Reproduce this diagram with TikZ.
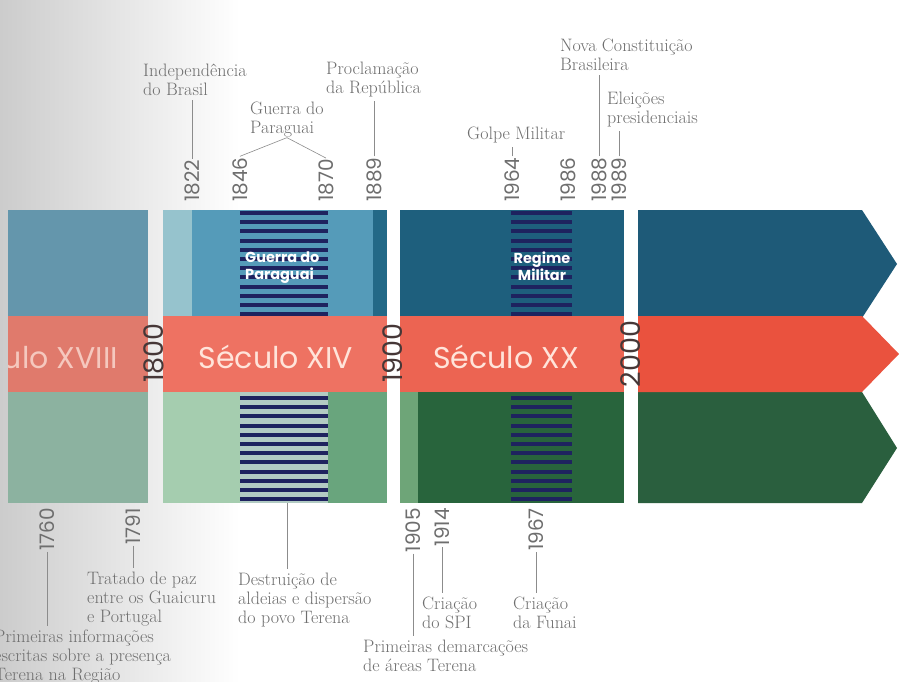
\documentclass[tikz,border=0pt]{standalone}
\usepackage{fontspec}
\newfontfamily\geofont{Poppins}
\definecolor{s1top}{RGB}{100,150,172}
\definecolor{s1bot}{RGB}{140,178,160}
\definecolor{s2topL}{RGB}{150,195,205}
\definecolor{s2top}{RGB}{85,155,185}
\definecolor{s2topR}{RGB}{35,105,135}
\definecolor{s2botL}{RGB}{165,205,175}
\definecolor{s2botS}{RGB}{178,203,195}
\definecolor{s2botR}{RGB}{105,165,125}
\definecolor{s3top}{RGB}{30,95,125}
\definecolor{s3botL}{RGB}{110,165,120}
\definecolor{s3bot}{RGB}{40,100,60}
\definecolor{s4top}{RGB}{30,90,120}
\definecolor{s4bot}{RGB}{42,95,62}
\definecolor{red1}{RGB}{224,122,108}
\definecolor{red2}{RGB}{238,114,98}
\definecolor{red3}{RGB}{236,100,82}
\definecolor{red4}{RGB}{234,82,62}
\definecolor{navy}{RGB}{30,35,95}
\definecolor{txtgray}{RGB}{110,110,110}
\definecolor{cent}{RGB}{255,228,218}
\definecolor{centA}{RGB}{245,200,190}
\definecolor{yeardark}{RGB}{70,55,55}
\tikzset{
  lbl/.style={font=\fontsize{18}{19}\selectfont, text=txtgray, align=left, inner sep=0pt, anchor=north west},
  yr/.style={font=\geofont\fontsize{20}{20}\selectfont, text=txtgray, rotate=90, inner sep=1pt},
  cyr/.style={font=\geofont\fontsize{27}{27}\selectfont, text=yeardark, rotate=90, inner sep=0pt},
  century/.style={font=\geofont\fontsize{30}{30}\selectfont, text=cent, inner sep=0pt},
  boldlbl/.style={font=\geofont\bfseries\fontsize{14.5}{16.5}\selectfont, text=white, align=center, inner sep=0pt},
  conn/.style={draw=black!45, line width=0.6pt},
  connb/.style={conn, shorten >=4pt}
}
\begin{document}
\begin{tikzpicture}[x=1pt,y=-1pt]
\clip (0,0) rectangle (899,682);
\fill[white] (0,0) rectangle (899,682);
\shade[left color=black!20, right color=white] (0,0) rectangle (240,682);
% section 1
\fill[s1top] (8,210) rectangle (148,316);
\fill[red1] (8,316) rectangle (148,392);
\fill[s1bot] (8,392) rectangle (148,503);
% section 2
\fill[s2topL] (163,210) rectangle (192,316);
\fill[s2top] (192,210) rectangle (373,316);
\fill[s2topR] (373,210) rectangle (387,316);
\fill[red2] (163,316) rectangle (387,392);
\fill[s2botL] (163,392) rectangle (240,503);
\fill[s2botS] (240,392) rectangle (328,503);
\fill[s2botR] (328,392) rectangle (387,503);
% section 3
\fill[s3top] (400,210) rectangle (624,316);
\fill[red3] (400,316) rectangle (624,392);
\fill[s3botL] (400,392) rectangle (418,503);
\fill[s3bot] (418,392) rectangle (624,503);
% section 4
\fill[s4top] (638,210) -- (862,210) -- (897,264) -- (862,318) -- (638,318) -- cycle;
\fill[s4bot] (638,392) -- (862,392) -- (897,448) -- (862,503) -- (638,503) -- cycle;
\fill[red4] (638,316) -- (862,316) -- (899,354) -- (862,392) -- (638,392) -- cycle;
% stripes
\foreach \k in {0,...,11} {
  \fill[navy] (240,{211+9.2*\k}) rectangle (328,{215+9.2*\k});
  \fill[navy] (240,{396+9.2*\k}) rectangle (328,{400+9.2*\k});
  \fill[navy] (511,{211+9.2*\k}) rectangle (572,{215+9.2*\k});
  \fill[navy] (511,{396+9.2*\k}) rectangle (572,{400+9.2*\k});
}
\node[boldlbl, align=left, anchor=north west] (gpar) at (245,252) {Guerra do\\Paraguai};
\node[boldlbl, anchor=north] (rmil) at (542,252) {Regime\\Militar};
% century texts
\begin{scope}
\clip (8,316) rectangle (148,392);
\node[century, text=centA, anchor=base east] (s18) at (118,368) {Século XVIII};
\end{scope}
\node[century, anchor=base] (s14) at (276,368) {Século XIV};
\node[century, anchor=base] (s20) at (506,368) {Século XX};
\node[cyr] (c1800) at (154,353) {1800};
\node[cyr] (c1900) at (393,353) {1900};
\node[cyr] (c2000) at (631,354) {2000};
% top years
\node[yr, anchor=west] (y1822) at (192,203) {1822};
\node[yr, anchor=west] (y1846) at (240,203) {1846};
\node[yr, anchor=west] (y1870) at (326,203) {1870};
\node[yr, anchor=west] (y1889) at (374,203) {1889};
\node[yr, anchor=west] (y1964) at (512,203) {1964};
\node[yr, anchor=west] (y1986) at (568,203) {1986};
\node[yr, anchor=west] (y1988) at (599,203) {1988};
\node[yr, anchor=west] (y1989) at (619,203) {1989};
% bottom years
\node[yr, anchor=east] (y1760) at (47,507) {1760};
\node[yr, anchor=east] (y1791) at (133,507) {1791};
\node[yr, anchor=east] (y1905) at (413,507) {1905};
\node[yr, anchor=east] (y1914) at (442,507) {1914};
\node[yr, anchor=east] (y1967) at (536,507) {1967};
% top labels
\node[lbl] (lInd) at (143,64) {Independência\\do Brasil};
\node[lbl] (lGue) at (250,102) {Guerra do\\Paraguai};
\node[lbl] (lPro) at (326,62) {Proclamação\\da República};
\node[lbl] (lGol) at (467,127) {Golpe Militar};
\node[lbl] (lNov) at (560,39) {Nova Constituição\\Brasileira};
\node[lbl] (lEle) at (607,92) {Eleições\\presidenciais};
% bottom labels
\node[lbl] (lPri) at (-6,630) {Primeiras informações\\escritas sobre a presença\\Terena na Região};
\node[lbl] (lTra) at (87,572) {Tratado de paz\\entre os Guaicuru\\e Portugal};
\node[lbl] (lDes) at (238,573) {Destruição de\\aldeias e dispersão\\do povo Terena};
\node[lbl] (lDem) at (363,640) {Primeiras demarcações\\de áreas Terena};
\node[lbl] (lSPI) at (422,597) {Criação\\do SPI};
\node[lbl] (lFun) at (513,597) {Criação\\da Funai};
% connectors top
\draw[connb] (y1822.east) -- (y1822.east |- lInd.south);
\draw[conn] (y1846.east) -- (lGue.south) -- (y1870.east);
\draw[connb] (y1889.east) -- (y1889.east |- lPro.south);
\draw[connb] (y1964.east) -- (y1964.east |- lGol.south);
\draw[connb] (y1988.east) -- (y1988.east |- lNov.south);
\draw[connb] (y1989.east) -- (y1989.east |- lEle.south);
% connectors bottom
\coordinate (dTop) at (287,503);
\draw[connb] (y1760.west) -- (y1760.west |- lPri.north);
\draw[connb] (y1791.west) -- (y1791.west |- lTra.north);
\draw[connb] (dTop) -- (dTop |- lDes.north);
\draw[connb] (y1905.west) -- (y1905.west |- lDem.north);
\draw[connb] (y1914.west) -- (y1914.west |- lSPI.north);
\draw[connb] (y1967.west) -- (y1967.west |- lFun.north);
\end{tikzpicture}
\end{document}
